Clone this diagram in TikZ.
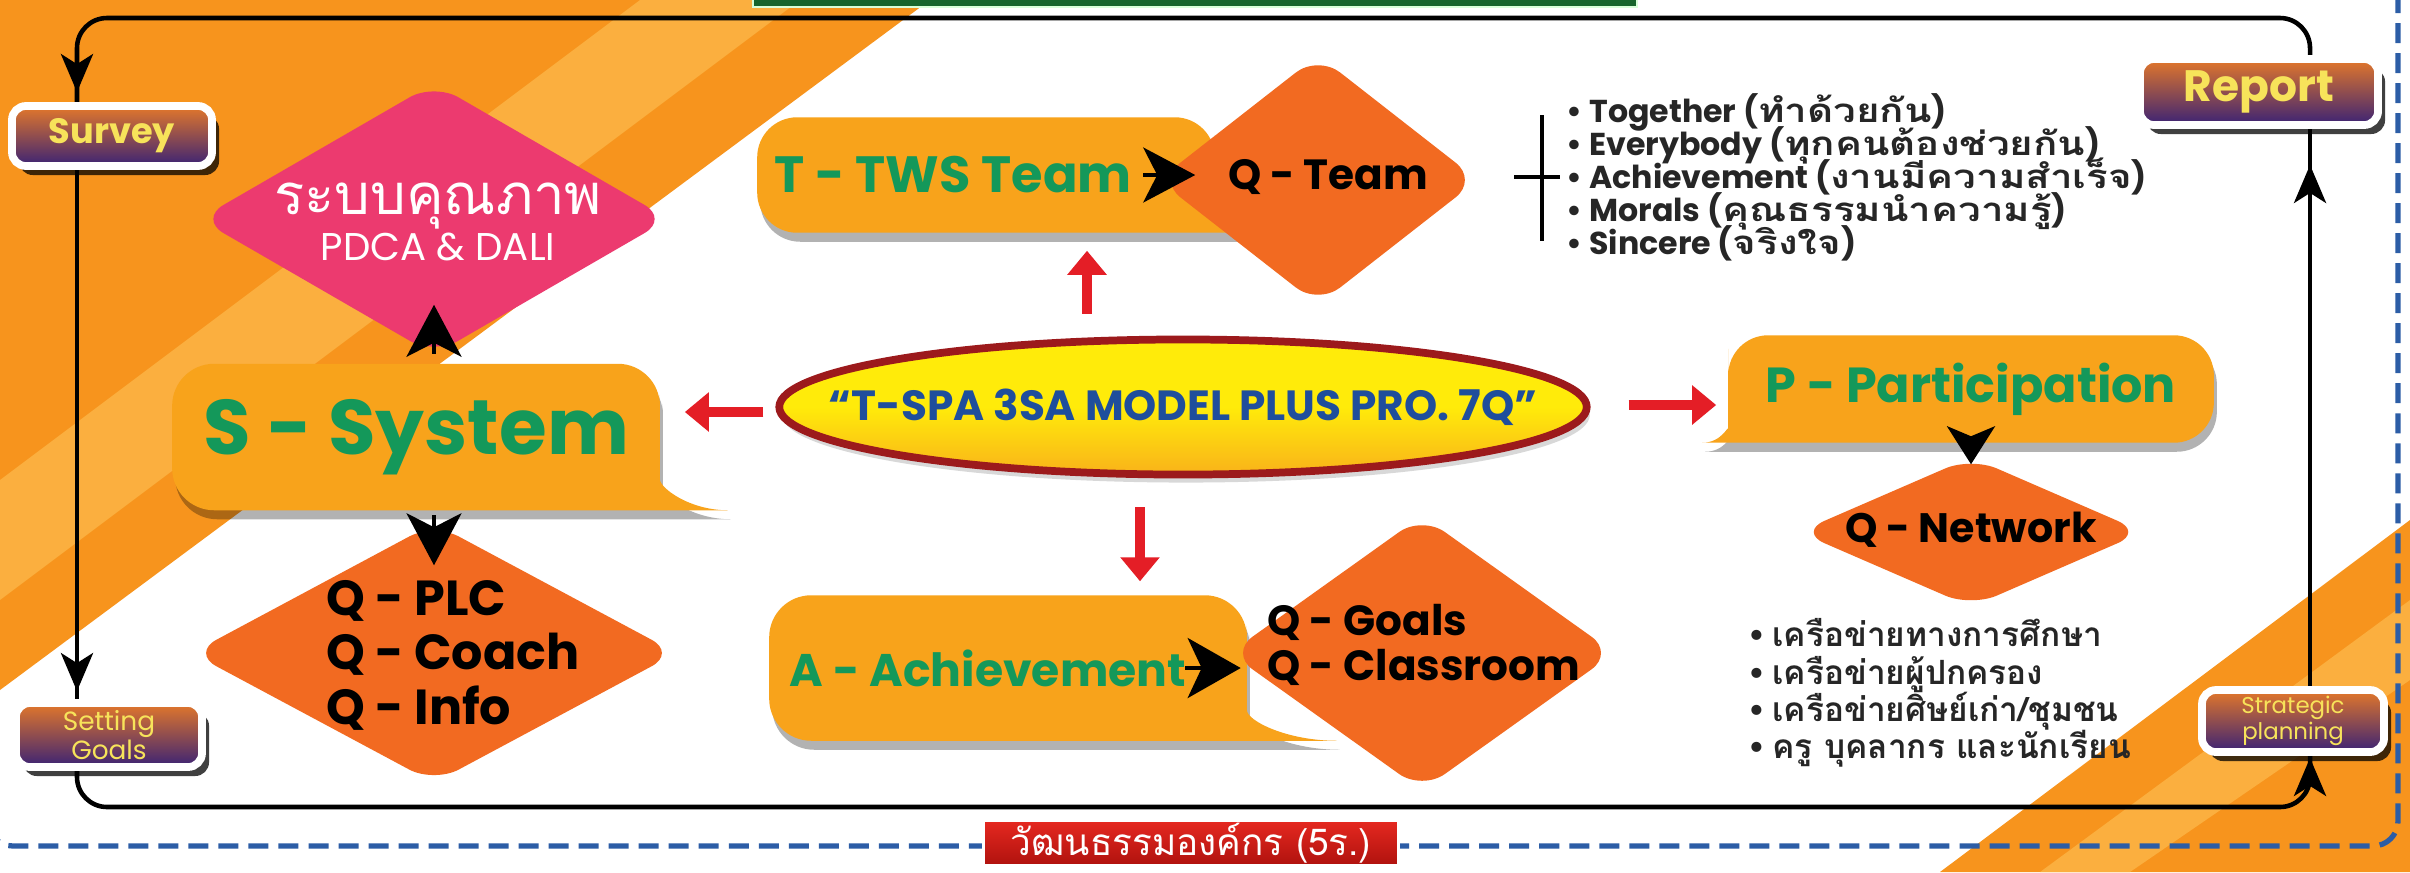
\documentclass[tikz,border=0pt]{standalone}
\usepackage{fontspec}
\setmainfont{Poppins}
\newfontfamily\thaifont[Script=Thai]{Loma}
\newfontfamily\thaiwidefont[Script=Thai, FakeStretch=1.22]{Loma}
\usetikzlibrary{positioning,calc,shapes.geometric,arrows.meta,shadows,decorations.markings}

\definecolor{bgdeep}{HTML}{F7941D}
\definecolor{bglite}{HTML}{FBAF3F}
\definecolor{bubor}{HTML}{F8A31B}
\definecolor{qorange}{HTML}{F26A21}
\definecolor{qpink}{HTML}{EC3A6F}
\definecolor{txgreen}{HTML}{14985A}
\definecolor{boxtop}{HTML}{E4782A}
\definecolor{boxbot}{HTML}{3A2275}
\definecolor{boxtext}{HTML}{F7E35A}
\definecolor{arrred}{HTML}{E41E26}
\definecolor{coreyel}{HTML}{FFEB0A}
\definecolor{coreorg}{HTML}{F9B21A}
\definecolor{corered}{HTML}{9C1A1C}
\definecolor{coreblue}{HTML}{1F4E9C}
\definecolor{dashblue}{HTML}{2C5DA6}
\definecolor{bargreen}{HTML}{17652C}
\definecolor{labred}{HTML}{E52820}
\definecolor{labdark}{HTML}{B0120E}

\newcommand{\thaiwide}[1]{{\thaiwidefont\fontsize{9.4}{9.6}\selectfont #1}}
\newcommand{\tightlines}{\lineskiplimit=-20pt\relax}

\pgfdeclarelayer{back}
\pgfdeclarelayer{bubble}
\pgfsetlayers{back,bubble,main}

\begin{document}
\begin{tikzpicture}[
    x = 0.01cm, y = -0.01cm,
    stagebox/.style = {rounded corners = 0.14cm, draw = white, line width = 2.2pt,
      top color = boxtop, bottom color = boxbot, text = boxtext, align = center,
      inner sep = 0pt, drop shadow = {shadow xshift = 0.07cm, shadow yshift = -0.09cm,
        fill = black, opacity = 0.75}},
    bubtext/.style = {inner sep = 0pt, text = txgreen},
    bubfill/.style = {fill = bubor, drop shadow = {shadow xshift = 0.03cm,
        shadow yshift = -0.09cm, fill = black, opacity = 0.3}},
    qdia/.style = {diamond, fill = qorange, rounded corners = 0.28cm, inner sep = 0pt},
    qtext/.style = {align = left, inner sep = 0pt},
    headarrow/.style = {line width = 1pt, -{Stealth[length = 0.52cm, width = 0.55cm, inset = 0.14cm]}},
    redarrow/.style = {arrred, line width = 2.6pt, -{Triangle[length = 0.24cm, width = 0.38cm]}},
    loopline/.style = {line width = 1.3pt, rounded corners = 0.3cm},
    flowmark/.style = {postaction = {decorate}, decoration = {markings,
        mark = at position #1 with {\arrow{Stealth[length = 0.38cm, width = 0.32cm, inset = 0.1cm]}}}},
    bullets/.style = {align = left, inner sep = 0pt, text = black!85}
  ]
  \useasboundingbox (0,0) rectangle (2410,872);

  \begin{pgfonlayer}{back}
    \fill[white] (0,0) rectangle (2410,872);
    \fill[bgdeep] (0,0) -- (930,0) -- (0,690) -- cycle;
    \fill[bglite] (640,0) -- (800,0) -- (0,600) -- (0,480) -- cycle;
    \fill[bgdeep] (2410,520) -- (2410,872) -- (1940,872) -- cycle;
    \fill[bglite] (2410,600) -- (2410,680) -- (2130,872) -- (2040,872) -- cycle;
    \draw[dashblue, line width = 1.5pt, dash pattern = on 0.2cm off 0.1cm,
      rounded corners = 0.25cm] (-12,-40) rectangle (2398,846);
    \fill[bargreen, draw = green!15!white, line width = 0.6pt] (753,-10) rectangle (1637,7);
  \end{pgfonlayer}

  % stages of the cycle
  \node[stagebox, minimum width = 2cm, minimum height = 0.6cm,
    font = \bfseries\fontsize{10}{12}\selectfont] (survey) at (112,136) {Survey};
  \node[stagebox, minimum width = 1.86cm, minimum height = 0.64cm,
    font = \fontsize{7.5}{8}\selectfont] (goals) at (109,735) {Setting\\Goals};
  \node[stagebox, minimum width = 2.38cm, minimum height = 0.66cm,
    font = \bfseries\fontsize{12.5}{14}\selectfont] (report) at (2259,92) {Report};
  \node[stagebox, minimum width = 1.82cm, minimum height = 0.62cm,
    font = \fontsize{6.5}{7.5}\selectfont] (strat) at (2293,721) {Strategic\\planning};

  \coordinate (tl) at (77,18);
  \coordinate (tr) at (2310,18);
  \coordinate (bl) at (77,807);
  \coordinate (br) at (2310,807);

  % diamonds
  \node[qdia, fill = qpink, minimum width = 4.7cm, minimum height = 2.72cm] (pdca) at (434,219) {};
  \node[inner sep = 0pt, align = center, text = white, font = \fontsize{11}{13}\selectfont]
    (pdcat) at (438,222) {{\thaifont\fontsize{16}{19}\selectfont ระบบคุณภาพ}\\PDCA \& DALI};
  \node[qdia, minimum width = 4.85cm, minimum height = 2.6cm] (plc) at (434,653) {};
  \node[qtext, font = \bfseries\fontsize{14}{15.5}\selectfont] (plct) at (453,655)
    {Q - PLC\\Q - Coach\\Q - Info};
  \node[qdia, minimum width = 3.2cm, minimum height = 2.5cm] (qteam) at (1318,180) {};
  \node[qtext, font = \bfseries\fontsize{12}{14}\selectfont] (qteamt) at (1328,177) {Q - Team};
  \node[qdia, minimum width = 3.85cm, minimum height = 2.75cm] (qgoals) at (1422,653) {};
  \node[qtext, font = \bfseries\fontsize{12}{13}\selectfont] (qgoalst) at (1424,645)
    {Q - Goals\\Q - Classroom};
  \node[qdia, minimum width = 3.45cm, minimum height = 1.5cm] (qnet) at (1971,532) {};
  \node[qtext, font = \bfseries\fontsize{11.7}{13}\selectfont] (qnett) at (1971,530) {Q - Network};

  \node[ellipse, minimum width = 8.07cm, minimum height = 1.35cm, draw = corered,
    line width = 2.2pt, top color = coreyel, bottom color = coreorg, middle color = coreyel,
    inner sep = 0pt, drop shadow = {shadow xshift = 0.03cm, shadow yshift = -0.08cm, opacity = 0.3}]
    (core) at (1183,407) {};
  \node[inner sep = 0pt, text = coreblue, font = \bfseries\fontsize{12}{14}\selectfont]
    (coretext) at (core) {“T-SPA 3SA MODEL PLUS PRO. 7Q”};

  % speech bubbles
  \node[bubtext, minimum width = 4.86cm, minimum height = 1.45cm,
    font = \bfseries\fontsize{22}{24}\selectfont] (sys) at (416,437) {S - System};
  \node[bubtext, minimum width = 3.9cm, minimum height = 1.14cm,
    font = \bfseries\fontsize{14.5}{17}\selectfont] (tbub) at (953,175) {T - TWS Team};
  \node[bubtext, minimum width = 4.36cm, minimum height = 1.44cm,
    font = \bfseries\fontsize{13}{15}\selectfont] (abub) at (988,668) {A - Achievement};
  \node[bubtext, minimum width = 4.84cm, minimum height = 1.06cm,
    font = \bfseries\fontsize{14}{16}\selectfont] (pbub) at (1971,389) {P - Participation};

  \begin{pgfonlayer}{bubble}
    \draw[loopline, flowmark = -0.1cm] (report.north -| tr) -- (tr) -- (tl) -- (survey.north -| tl);
    \draw[loopline, flowmark = -0.08cm] (survey.south -| tl) -- (goals.north -| tl);
    \draw[loopline, flowmark = -0.02cm] (goals.south -| bl) -- (bl) -- (br) -- (strat.south -| br);
    \draw[loopline, flowmark = -0.36cm] (strat.north -| br) -- (report.south -| br);

    \fill[bubfill] ($(sys.south east)+(68,0)$) [rounded corners = 0.42cm]
      -- (sys.south west) -- (sys.north west) -- (sys.north east) -- (sys.east)
      [sharp corners] .. controls ($(sys.south east)+(0,-22)$) and ($(sys.south east)+(30,0)$)
      .. ($(sys.south east)+(68,0)$) -- cycle;
    \fill[bubfill] ($(tbub.south east)+(150,0)$) [rounded corners = 0.4cm]
      -- (tbub.south west) -- (tbub.north west) -- ($(tbub.north east)+(66,0)$) -- ($(tbub.east)+(66,0)$)
      [sharp corners] .. controls ($(tbub.south east)+(66,-18)$) and ($(tbub.south east)+(100,0)$)
      .. ($(tbub.south east)+(150,0)$) -- cycle;
    \fill[bubfill] ($(abub.south east)+(130,0)$) [rounded corners = 0.42cm]
      -- (abub.south west) -- (abub.north west) -- ($(abub.north east)+(40,0)$) -- ($(abub.east)+(40,0)$)
      [sharp corners] .. controls ($(abub.south east)+(40,-20)$) and ($(abub.south east)+(80,0)$)
      .. ($(abub.south east)+(130,0)$) -- cycle;
    \fill[bubfill] ($(pbub.south west)+(-26,0)$) [rounded corners = 0.4cm]
      -- (pbub.south east) -- (pbub.north east) -- (pbub.north west) -- (pbub.west)
      [sharp corners] .. controls ($(pbub.south west)+(0,-18)$) and ($(pbub.south west)+(-6,0)$)
      .. ($(pbub.south west)+(-26,0)$) -- cycle;
  \end{pgfonlayer}

  % black heads
  \draw[headarrow, shorten <= 0.1cm, shorten >= -0.51cm] (sys.north -| pdca.south) -- (pdca.south);
  \draw[headarrow, shorten <= 0.05cm, shorten >= -0.43cm] (sys.south -| plc.north) -- (plc.north);
  \draw[headarrow, shorten <= 1.9cm, shorten >= -0.38cm] (tbub.center) -- (tbub -| qteam.west);
  \draw[headarrow, -{Stealth[length = 0.53cm, width = 0.6cm, inset = 0.14cm]},
    shorten <= 1.97cm, shorten >= -0.12cm] (abub.center) -- (abub -| qgoals.west);
  \draw[headarrow, -{Stealth[length = 0.38cm, width = 0.48cm, inset = 0.1cm]},
    shorten <= -0.17cm, shorten >= -0.08cm] (pbub.south -| qnet.north) -- (qnet.north);

  % red arrows from the model
  \draw[redarrow] ($(core.north)+(-96,-22)$) -- ($(tbub.south)+(134,18)$);
  \draw[redarrow] ($(core.west)+(-12,5)$) -- ($(sys.east)+(25,-25)$);
  \draw[redarrow] ($(core.east)+(38,-2)$) -- ($(pbub.west)+(-12,16)$);
  \draw[redarrow] ($(core.south)+(-43,29)$) -- ($(abub.north)+(152,-14)$);

  \coordinate (brk) at (1542,177);
  \draw[line width = 1pt] (brk) ++(0,-62) -- ++(0,126);
  \draw[line width = 1pt] (brk) ++(-28,0) -- ++(46,0);
  \node[bullets, anchor = west, font = \bfseries\fontsize{9}{9.4}\selectfont\tightlines]
    (teamlist) at (1566,177) {%
    • Together (\thaiwide{ทำด้วยกัน})\\
    • Everybody (\thaiwide{ทุกคนต้องช่วยกัน})\\
    • Achievement (\thaiwide{งานมีความสำเร็จ})\\
    • Morals (\thaiwide{คุณธรรมนำความรู้})\\
    • Sincere (\thaiwide{จริงใจ})};
  \node[bullets, anchor = west, font = \bfseries\fontsize{9.5}{10.6}\selectfont\tightlines]
    (netlist) at (1748,693) {%
    • {\thaifont เครือข่ายทางการศึกษา}\\
    • {\thaifont เครือข่ายผู้ปกครอง}\\
    • {\thaifont เครือข่ายศิษย์เก่า/ชุมชน}\\
    • {\thaifont ครู บุคลากร และนักเรียน}};

  \node[draw = white, line width = 0.8pt, top color = labred, bottom color = labdark,
    text = white, minimum width = 4.15cm, minimum height = 0.44cm, inner sep = 0pt,
    font = \fontsize{10.5}{12}\selectfont] (culture) at (1191,843) {\thaifont วัฒนธรรมองค์กร (5ร.)};
\end{tikzpicture}
\end{document}
